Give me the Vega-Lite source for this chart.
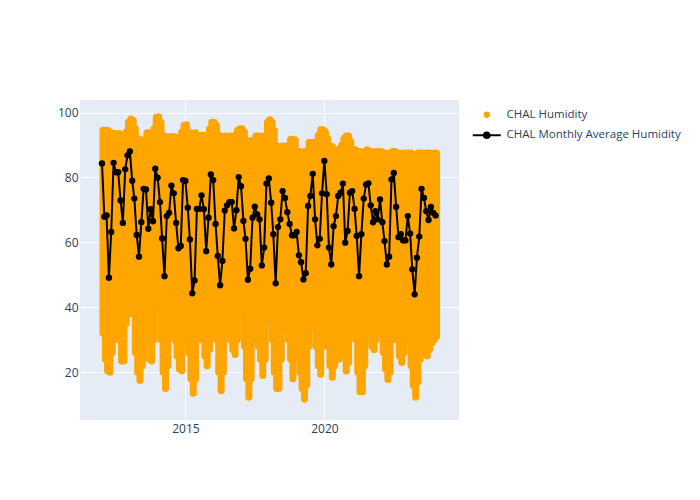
{
  "$schema": "https://vega.github.io/schema/vega-lite/v6.json",
  "width": 379,
  "height": 320,
  "autosize": {"type": "none"},
  "padding": {"left": 80, "top": 100, "right": 241, "bottom": 80},
  "background": "white",
  "config": {
    "view": {"fill": "#E5ECF6", "stroke": null},
    "font": "Open Sans",
    "axis": {"domain": false, "ticks": false, "gridColor": "white", "gridWidth": 1, "labelFont": "Open Sans", "labelFontSize": 12, "labelColor": "#2a3f5f", "title": null}
  },
  "data": {"values": [
    {"d":"2012-01-01","avg":84.3,"lo":32,"hi":94.5},{"d":"2012-02-01","avg":67.9,"lo":24,"hi":94.5},{"d":"2012-03-01","avg":68.3,"lo":20.5,"hi":94.5},{"d":"2012-04-01","avg":49.1,"lo":20,"hi":94},{"d":"2012-05-01","avg":63.2,"lo":26,"hi":91},{"d":"2012-06-01","avg":84.5,"lo":30,"hi":93.5},{"d":"2012-07-01","avg":81.6,"lo":35,"hi":93.5},{"d":"2012-08-01","avg":81.6,"lo":30,"hi":93.5},{"d":"2012-09-01","avg":72.9,"lo":23.5,"hi":93},{"d":"2012-10-01","avg":66.0,"lo":23.5,"hi":91},{"d":"2012-11-01","avg":82.5,"lo":35,"hi":94},{"d":"2012-12-01","avg":86.8,"lo":38,"hi":97},
    {"d":"2013-01-01","avg":88.0,"lo":38,"hi":98},{"d":"2013-02-01","avg":79.0,"lo":38,"hi":97.5},{"d":"2013-03-01","avg":73.5,"lo":26,"hi":95},{"d":"2013-04-01","avg":62.3,"lo":20,"hi":92},{"d":"2013-05-01","avg":55.6,"lo":17.5,"hi":91.5},{"d":"2013-06-01","avg":66.2,"lo":22,"hi":91.5},{"d":"2013-07-01","avg":76.5,"lo":35,"hi":91.5},{"d":"2013-08-01","avg":76.3,"lo":30,"hi":93.8},{"d":"2013-09-01","avg":64.2,"lo":24,"hi":93.8},{"d":"2013-10-01","avg":70.2,"lo":23.5,"hi":93.5},{"d":"2013-11-01","avg":66.5,"lo":30,"hi":95},{"d":"2013-12-01","avg":82.7,"lo":40,"hi":98.5},
    {"d":"2014-01-01","avg":79.9,"lo":40,"hi":98.7},{"d":"2014-02-01","avg":72.4,"lo":30,"hi":97},{"d":"2014-03-01","avg":61.2,"lo":20,"hi":93},{"d":"2014-04-01","avg":49.6,"lo":15,"hi":92.5},{"d":"2014-05-01","avg":68.1,"lo":22,"hi":92.5},{"d":"2014-06-01","avg":69.1,"lo":32,"hi":92.5},{"d":"2014-07-01","avg":77.5,"lo":36,"hi":92.5},{"d":"2014-08-01","avg":75.1,"lo":30,"hi":92.5},{"d":"2014-09-01","avg":66.0,"lo":25,"hi":92},{"d":"2014-10-01","avg":58.2,"lo":21,"hi":92.5},{"d":"2014-11-01","avg":58.9,"lo":20.5,"hi":94},{"d":"2014-12-01","avg":79.2,"lo":30,"hi":96},
    {"d":"2015-01-01","avg":78.9,"lo":38,"hi":96.2},{"d":"2015-02-01","avg":70.7,"lo":26,"hi":94},{"d":"2015-03-01","avg":60.9,"lo":18,"hi":93.8},{"d":"2015-04-01","avg":44.3,"lo":13.5,"hi":93.5},{"d":"2015-05-01","avg":48.3,"lo":18,"hi":93.8},{"d":"2015-06-01","avg":70.3,"lo":30,"hi":93},{"d":"2015-07-01","avg":70.3,"lo":36,"hi":93},{"d":"2015-08-01","avg":74.5,"lo":30,"hi":93},{"d":"2015-09-01","avg":70.2,"lo":25,"hi":93},{"d":"2015-10-01","avg":57.3,"lo":22,"hi":92.5},{"d":"2015-11-01","avg":67.6,"lo":27,"hi":95},{"d":"2015-12-01","avg":80.9,"lo":38,"hi":97},
    {"d":"2016-01-01","avg":79.2,"lo":38,"hi":96.9},{"d":"2016-02-01","avg":65.7,"lo":30,"hi":96},{"d":"2016-03-01","avg":55.8,"lo":20,"hi":93},{"d":"2016-04-01","avg":46.8,"lo":14.3,"hi":92.8},{"d":"2016-05-01","avg":54.3,"lo":20,"hi":92.5},{"d":"2016-06-01","avg":69.8,"lo":32,"hi":92.8},{"d":"2016-07-01","avg":71.4,"lo":34,"hi":92.5},{"d":"2016-08-01","avg":72.4,"lo":30,"hi":92.8},{"d":"2016-09-01","avg":72.4,"lo":27,"hi":92.5},{"d":"2016-10-01","avg":64.3,"lo":25.5,"hi":93},{"d":"2016-11-01","avg":69.9,"lo":30,"hi":94.5},{"d":"2016-12-01","avg":80.1,"lo":38,"hi":95},
    {"d":"2017-01-01","avg":77.3,"lo":38,"hi":95},{"d":"2017-02-01","avg":66.6,"lo":28,"hi":94},{"d":"2017-03-01","avg":61.1,"lo":18,"hi":91.4},{"d":"2017-04-01","avg":48.5,"lo":12.3,"hi":91},{"d":"2017-05-01","avg":51.9,"lo":18,"hi":91.4},{"d":"2017-06-01","avg":67.6,"lo":30,"hi":91},{"d":"2017-07-01","avg":71.0,"lo":34,"hi":92.8},{"d":"2017-08-01","avg":68.6,"lo":28,"hi":92.8},{"d":"2017-09-01","avg":67.1,"lo":24,"hi":92.5},{"d":"2017-10-01","avg":52.9,"lo":19,"hi":92.8},{"d":"2017-11-01","avg":58.4,"lo":24,"hi":91},{"d":"2017-12-01","avg":78.1,"lo":36,"hi":97},
    {"d":"2018-01-01","avg":79.7,"lo":38,"hi":97.8},{"d":"2018-02-01","avg":72.2,"lo":30,"hi":97},{"d":"2018-03-01","avg":62.5,"lo":20,"hi":94.4},{"d":"2018-04-01","avg":47.4,"lo":15,"hi":89.7},{"d":"2018-05-01","avg":64.7,"lo":15,"hi":89.5},{"d":"2018-06-01","avg":67.1,"lo":24,"hi":89.7},{"d":"2018-07-01","avg":75.8,"lo":34,"hi":89.5},{"d":"2018-08-01","avg":73.7,"lo":34,"hi":89.7},{"d":"2018-09-01","avg":69.3,"lo":30,"hi":89.7},{"d":"2018-10-01","avg":65.7,"lo":24,"hi":91.8},{"d":"2018-11-01","avg":62.2,"lo":18,"hi":91.8},{"d":"2018-12-01","avg":62.2,"lo":25,"hi":91.5},
    {"d":"2019-01-01","avg":63.2,"lo":28,"hi":88},{"d":"2019-02-01","avg":56.0,"lo":20,"hi":88},{"d":"2019-03-01","avg":53.9,"lo":15,"hi":87.5},{"d":"2019-04-01","avg":48.6,"lo":11.7,"hi":88},{"d":"2019-05-01","avg":50.5,"lo":16,"hi":88},{"d":"2019-06-01","avg":71.2,"lo":28,"hi":90.8},{"d":"2019-07-01","avg":74.3,"lo":34,"hi":90.5},{"d":"2019-08-01","avg":81.1,"lo":34,"hi":90.8},{"d":"2019-09-01","avg":67.1,"lo":28,"hi":91},{"d":"2019-10-01","avg":59.1,"lo":22,"hi":93},{"d":"2019-11-01","avg":61.1,"lo":19.4,"hi":94.7},{"d":"2019-12-01","avg":75.1,"lo":28,"hi":94.7},
    {"d":"2020-01-01","avg":85.1,"lo":34,"hi":94},{"d":"2020-02-01","avg":74.8,"lo":28,"hi":92},{"d":"2020-03-01","avg":58.4,"lo":22,"hi":89.7},{"d":"2020-04-01","avg":53.2,"lo":18.5,"hi":89.5},{"d":"2020-05-01","avg":65.0,"lo":22,"hi":88.5},{"d":"2020-06-01","avg":68.1,"lo":24,"hi":88.5},{"d":"2020-07-01","avg":74.3,"lo":24,"hi":88.5},{"d":"2020-08-01","avg":75.3,"lo":30,"hi":90},{"d":"2020-09-01","avg":78.1,"lo":26,"hi":92},{"d":"2020-10-01","avg":59.9,"lo":20.4,"hi":92.8},{"d":"2020-11-01","avg":63.5,"lo":23,"hi":92.8},{"d":"2020-12-01","avg":75.3,"lo":32,"hi":91},
    {"d":"2021-01-01","avg":75.8,"lo":36,"hi":88},{"d":"2021-02-01","avg":70.3,"lo":30,"hi":88.5},{"d":"2021-03-01","avg":62.0,"lo":20,"hi":88},{"d":"2021-04-01","avg":49.6,"lo":14,"hi":88},{"d":"2021-05-01","avg":62.5,"lo":14,"hi":87.5},{"d":"2021-06-01","avg":73.5,"lo":22,"hi":88},{"d":"2021-07-01","avg":77.8,"lo":34,"hi":88.5},{"d":"2021-08-01","avg":78.2,"lo":32,"hi":88},{"d":"2021-09-01","avg":71.4,"lo":28,"hi":88},{"d":"2021-10-01","avg":66.2,"lo":27,"hi":87.5},{"d":"2021-11-01","avg":69.6,"lo":30,"hi":88},{"d":"2021-12-01","avg":67.1,"lo":36,"hi":88},
    {"d":"2022-01-01","avg":73.2,"lo":34,"hi":88},{"d":"2022-02-01","avg":66.2,"lo":26,"hi":87.5},{"d":"2022-03-01","avg":60.4,"lo":21,"hi":87.5},{"d":"2022-04-01","avg":53.2,"lo":17.8,"hi":87},{"d":"2022-05-01","avg":55.6,"lo":20,"hi":87.5},{"d":"2022-06-01","avg":79.4,"lo":30,"hi":88},{"d":"2022-07-01","avg":81.4,"lo":36,"hi":88},{"d":"2022-08-01","avg":70.9,"lo":30,"hi":87.5},{"d":"2022-09-01","avg":61.6,"lo":25,"hi":87.5},{"d":"2022-10-01","avg":62.5,"lo":23,"hi":87},{"d":"2022-11-01","avg":60.6,"lo":26,"hi":87.5},{"d":"2022-12-01","avg":60.6,"lo":32,"hi":87.5},
    {"d":"2023-01-01","avg":68.1,"lo":30,"hi":87.5},{"d":"2023-02-01","avg":62.7,"lo":22,"hi":87.5},{"d":"2023-03-01","avg":51.7,"lo":16,"hi":87},{"d":"2023-04-01","avg":44.0,"lo":12.3,"hi":87},{"d":"2023-05-01","avg":55.3,"lo":17,"hi":87.5},{"d":"2023-06-01","avg":61.8,"lo":24,"hi":87.5},{"d":"2023-07-01","avg":76.5,"lo":30,"hi":87.5},{"d":"2023-08-01","avg":73.7,"lo":26,"hi":87},{"d":"2023-09-01","avg":69.6,"lo":25,"hi":87.5},{"d":"2023-10-01","avg":66.9,"lo":27,"hi":87.5},{"d":"2023-11-01","avg":70.9,"lo":29,"hi":87},{"d":"2023-12-01","avg":69.1,"lo":30,"hi":87.5},
    {"d":"2024-01-01","avg":68.3,"lo":31,"hi":87.5}
  ]},
  "encoding": {
    "x": {
      "field": "d", "type": "temporal",
      "scale": {"domain": [{"year": 2011, "month": 3, "date": 18}, {"year": 2024, "month": 11, "date": 4}]},
      "axis": {"values": [{"year": 2015, "month": 1, "date": 1}, {"year": 2020, "month": 1, "date": 1}], "format": "%Y", "labelPadding": 3, "labelFlush": false, "grid": true}
    }
  },
  "layer": [
    {
      "mark": {"type": "rule", "strokeWidth": 7, "strokeCap": "round", "xOffset": 1},
      "encoding": {
        "y": {"field": "lo", "type": "quantitative", "scale": {"domain": [5.3, 103.85], "nice": false, "zero": false}, "axis": {"values": [20, 40, 60, 80, 100], "labelPadding": 2, "grid": true}},
        "y2": {"field": "hi"},
        "color": {"datum": "CHAL Humidity", "type": "nominal",
          "scale": {"domain": ["CHAL Humidity", "CHAL Monthly Average Humidity"], "range": ["#FFA500", "#000000"]},
          "legend": {"title": null, "orient": "none", "legendX": 401, "legendY": 9, "labelFont": "Open Sans", "labelFontSize": 11.5, "labelColor": "#2a3f5f", "labelOffset": 14, "labelLimit": 400, "rowPadding": 6.5, "padding": 0,
            "encode": {"symbols": {"update": {
              "shape": {"signal": "datum.value === 'CHAL Humidity' ? 'circle' : 'M-1,0H1M0.2,0A0.2,0.2,0,1,1,-0.2,0A0.2,0.2,0,1,1,0.2,0Z'"},
              "fill": {"signal": "datum.value === 'CHAL Humidity' ? '#FFA500' : '#000000'"},
              "stroke": {"signal": "datum.value === 'CHAL Humidity' ? '#FFA500' : '#000000'"},
              "strokeWidth": {"signal": "datum.value === 'CHAL Humidity' ? 0 : 2"},
              "size": {"signal": "datum.value === 'CHAL Humidity' ? 40 : 784"},
              "opacity": {"value": 1}
            }}}
          }
        }
      }
    },
    {
      "mark": {"type": "line", "strokeWidth": 2},
      "encoding": {
        "y": {"field": "avg", "type": "quantitative", "scale": {"domain": [5.3, 103.85], "nice": false, "zero": false}},
        "color": {"datum": "CHAL Monthly Average Humidity", "type": "nominal"}
      }
    },
    {
      "mark": {"type": "point", "filled": true, "size": 40, "opacity": 1},
      "encoding": {
        "y": {"field": "avg", "type": "quantitative", "scale": {"domain": [5.3, 103.85], "nice": false, "zero": false}},
        "color": {"datum": "CHAL Monthly Average Humidity", "type": "nominal"}
      }
    }
  ]
}
